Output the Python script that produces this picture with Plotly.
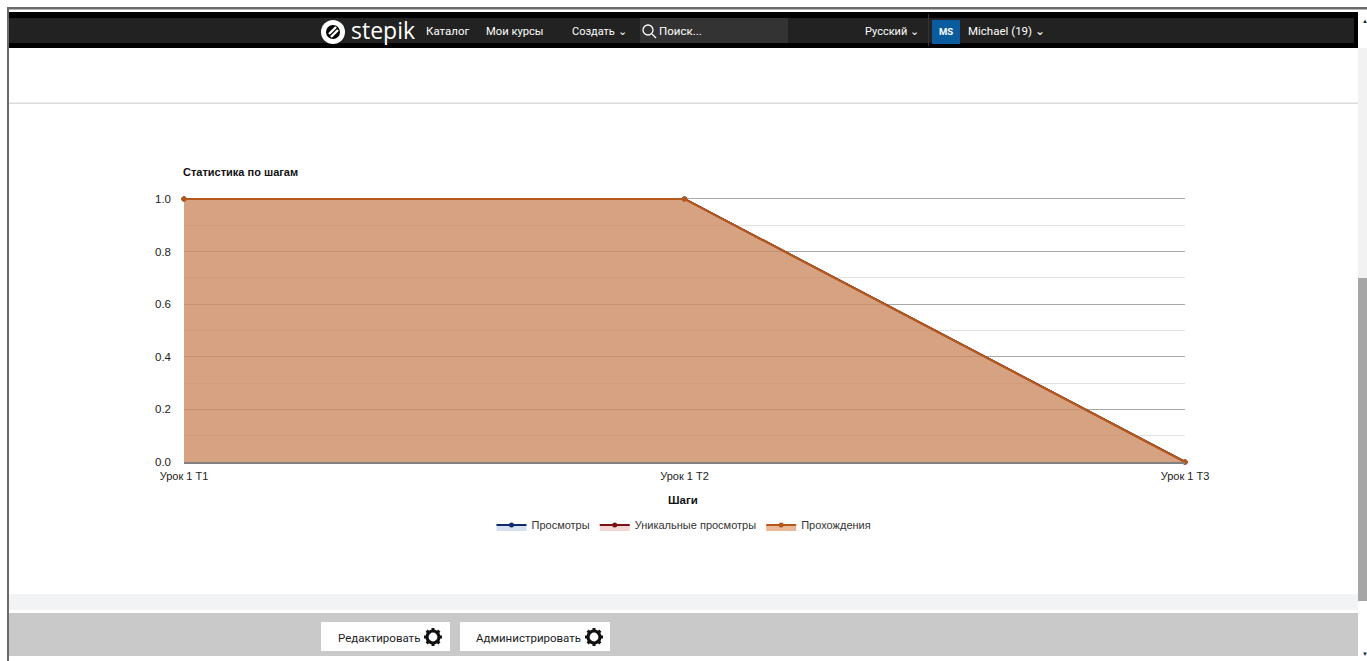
import math
import plotly.graph_objects as go

W, H = 1367, 661
categories = ["Урок 1 T1", "Урок 1 T2", "Урок 1 T3"]
views = [1, 1, 0]
unique_views = [1, 1, 0]
passes = [1, 1, 0]
y_ticks = [0.0, 0.2, 0.4, 0.6, 0.8, 1.0]
y_tick_labels = ["0.0", "0.2", "0.4", "0.6", "0.8", "1.0"]

FONT = "Liberation Sans"
NAVFONT = "Roboto"

def px(x): return x / W
def py(y): return 1 - y / H

shapes = []
def rect(x0, y0, x1, y1, color, layer="below"):
    shapes.append(dict(type="rect", xref="paper", yref="paper", x0=px(x0), x1=px(x1),
                       y0=py(y1), y1=py(y0), fillcolor=color, line_width=0, layer=layer))

def circle(x0, y0, x1, y1, fill, line=None, lw=0):
    shapes.append(dict(type="circle", xref="paper", yref="paper", x0=px(x0), x1=px(x1),
                       y0=py(y1), y1=py(y0), fillcolor=fill,
                       line=dict(color=line or fill, width=lw), layer="above"))

def seg(x0, y0, x1, y1, color, lw):
    shapes.append(dict(type="line", xref="paper", yref="paper", x0=px(x0), x1=px(x1),
                       y0=py(y0), y1=py(y1), line=dict(color=color, width=lw), layer="above"))

annotations = []
def text(x, y, s, size=12, color="#000", anchor="left", bold=False, family=FONT):
    annotations.append(dict(xref="paper", yref="paper", x=px(x), y=py(y), text=f"<b>{s}</b>" if bold else s,
                            showarrow=False, xanchor=anchor, yanchor="middle", borderpad=0, borderwidth=0,
                            font=dict(family=family, size=size, color=color)))

def gear(cx, cy):
    circle(cx - 6, cy - 6, cx + 6, cy + 6, "rgba(0,0,0,0)", "#111111", 3.2)
    for k in range(8):
        a = k * math.pi / 4
        seg(cx + 6.5 * math.cos(a), cy + 6.5 * math.sin(a),
            cx + 9 * math.cos(a), cy + 9 * math.sin(a), "#111111", 3)

# page chrome
rect(7, 7, 1367, 9.5, "#6a6a6a")
rect(7, 7, 9, 661, "#6a6a6a")
rect(9, 12, 1358, 48, "#000000")
rect(9, 18, 1354, 43, "#222222")
rect(640, 18, 788, 43, "#333333")
rect(928, 14, 929, 46, "#333333")
rect(9, 102.5, 1358, 104, "#dcdcdc")
rect(9, 594, 1358, 610, "#f2f3f5")
rect(9, 613, 1358, 656, "#c9c9c9")
rect(1358, 48, 1367, 278, "#f2f2f2")
rect(1358, 278, 1367, 601, "#a6a6a6")
rect(321, 622, 450, 651, "#ffffff")
rect(460, 622, 610, 651, "#ffffff")
rect(932, 20, 960, 44, "#0a5c9e")

# logo
circle(321, 20, 345, 44, "#ffffff")
circle(326, 25, 340, 39, "#000000")
seg(329, 34, 336, 27, "#ffffff", 2.4)
seg(331, 37, 338, 30, "#ffffff", 2.4)
# search icon
circle(643, 25, 653, 35, "rgba(0,0,0,0)", "#ffffff", 1.3)
seg(652, 34, 656, 38, "#ffffff", 1.3)

text(351, 30, "stepik", 23, "#ffffff", family="Open Sans")
text(426, 31, "Каталог", 11.5, "#ffffff", family=NAVFONT)
text(486, 31, "Мои курсы", 11.2, "#ffffff", family=NAVFONT)
text(572, 31, "Создать ⌄", 11, "#ffffff", family=NAVFONT)
text(659, 31, "Поиск...", 11.5, "#ffffff", family=NAVFONT)
text(865, 31, "Русский ⌄", 11, "#ffffff", family=NAVFONT)
text(946, 31, "MS", 9.5, "#ffffff", anchor="center", bold=True, family=NAVFONT)
text(968, 31, "Michael (19) ⌄", 11.5, "#ffffff", family=NAVFONT)
text(338, 638, "Редактировать", 11.5, "#222222", family=NAVFONT)
text(476, 638, "Администрировать", 11.5, "#222222", family=NAVFONT)
text(1365, 21, "▲", 6, "#222222", anchor="center")
text(1365, 654, "▼", 6, "#222222", anchor="center")
gear(433, 637)
gear(594, 637)

# chart labels
text(183, 172, "Статистика по шагам", 11, "#111111", bold=True)
text(683, 500, "Шаги", 11.5, "#111111", anchor="center", bold=True)

fig = go.Figure()
for name, values, line, fill in [
    ("Просмотры", views, "#0d2a6b", "rgba(90,130,200,0.25)"),
    ("Уникальные просмотры", unique_views, "#7a0f16", "rgba(205,90,80,0.25)"),
    ("Прохождения", passes, "#b4591a", "rgba(218,145,90,0.64)"),
]:
    fig.add_trace(go.Scatter(x=categories, y=values, name=name, mode="lines+markers",
                             fill="tozeroy", fillcolor=fill,
                             line=dict(color=line, width=2),
                             marker=dict(color=line, size=5), cliponaxis=False))

fig.update_layout(
    width=W, height=H, margin=dict(l=0, r=0, t=0, b=0, autoexpand=False),
    paper_bgcolor="#ffffff", plot_bgcolor="rgba(0,0,0,0)",
    font=dict(family=FONT, size=11, color="#222222"),
    shapes=shapes, annotations=annotations, showlegend=True,
    legend=dict(orientation="h", xanchor="center", yanchor="middle", x=px(684), y=py(525),
                bgcolor="rgba(0,0,0,0)", font=dict(size=11, family=FONT, color="#333333"),
                itemwidth=30, tracegroupgap=0),
    xaxis=dict(domain=[px(184), px(1185)], type="category", range=[0, 2],
               showgrid=False, showline=True, linecolor="#808080", linewidth=1.5,
               ticks="", ticklabelstandoff=3, tickfont=dict(size=11, family=FONT, color="#222222")),
    yaxis=dict(domain=[py(462), py(197.4)], range=[0, 1.006], tickvals=y_ticks, ticktext=y_tick_labels,
               showgrid=True, gridcolor="#a8a8a8", gridwidth=1, zeroline=False, showline=False,
               ticks="", ticklabelstandoff=12, tickfont=dict(size=11.5, family=FONT, color="#222222"),
               minor=dict(dtick=0.1, showgrid=True, gridcolor="#e2e2e2", gridwidth=1, ticks="")),
)

fig.write_html("out.html", config=dict(displayModeBar=False),
               post_script="document.body.style.margin='0';document.body.style.overflow='hidden';")
